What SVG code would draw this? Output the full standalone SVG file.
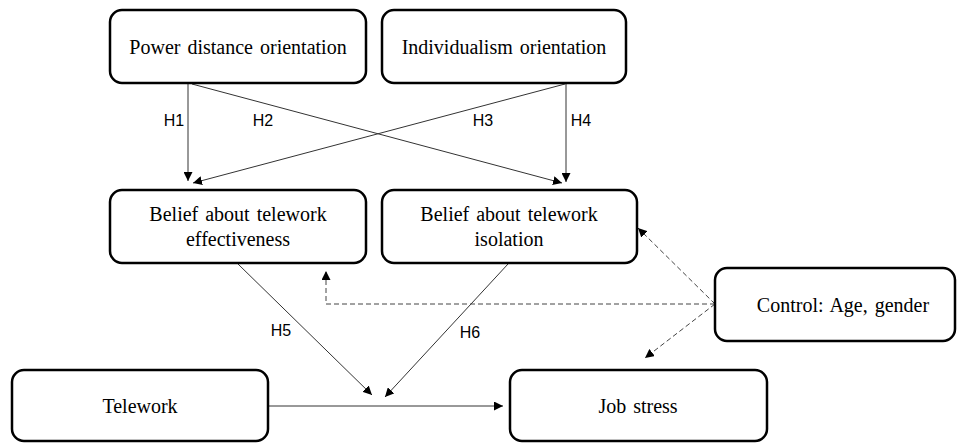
<svg xmlns="http://www.w3.org/2000/svg" width="959" height="443" viewBox="0 0 959 443">
<style>
.box{fill:#fff;stroke:#000;stroke-width:2.5}
.t{font-family:"Liberation Serif","Times New Roman",serif;font-size:20px;fill:#000;text-anchor:middle;word-spacing:2px}
.h{font-family:"Liberation Sans",Arial,sans-serif;font-size:16px;fill:#000;text-anchor:middle}
.c{fill:none;stroke:#333;stroke-width:1}
.d{fill:none;stroke:#444;stroke-width:1;stroke-dasharray:5,3}
</style>
<defs>
<marker id="a" viewBox="0 0 10 10" refX="10" refY="5" markerWidth="9" markerHeight="9" markerUnits="userSpaceOnUse" orient="auto"><path d="M0,0L10,5L0,10z" fill="#000"/></marker>
</defs>
<rect width="959" height="443" fill="#fff"/>
<g id="connectors">
<line class="c" x1="188" y1="84" x2="188" y2="181" marker-end="url(#a)"/>
<line class="c" x1="192" y1="84" x2="562" y2="183" marker-end="url(#a)"/>
<line class="c" x1="565" y1="84" x2="193" y2="183" marker-end="url(#a)"/>
<line class="c" x1="566" y1="84" x2="566" y2="182" marker-end="url(#a)"/>
<line class="c" x1="238" y1="264" x2="372" y2="395" marker-end="url(#a)"/>
<line class="c" x1="508" y1="264" x2="385" y2="397" marker-end="url(#a)"/>
<line class="c" x1="268" y1="406" x2="503" y2="406" stroke-width="1.5" stroke="#555" marker-end="url(#a)"/>
<polyline class="d" points="715,304 326,304 326,271" marker-end="url(#a)"/>
<line class="d" x1="715" y1="304" x2="638" y2="228" marker-end="url(#a)"/>
<line class="d" x1="715" y1="304" x2="645" y2="358" marker-end="url(#a)"/>
<text class="h" x="174" y="126">H1</text>
<text class="h" x="263" y="126">H2</text>
<text class="h" x="483" y="126">H3</text>
<text class="h" x="581" y="126">H4</text>
<text class="h" x="281" y="336">H5</text>
<text class="h" x="470" y="338">H6</text>
</g>
<g id="n1"><rect class="box" x="110" y="10" width="256" height="73" rx="12"/><text class="t" x="238" y="54">Power distance orientation</text></g>
<g id="n2"><rect class="box" x="382" y="10" width="244" height="73" rx="12"/><text class="t" x="504" y="54">Individualism orientation</text></g>
<g id="n3"><rect class="box" x="110" y="190" width="256" height="73" rx="12"/><text class="t" x="238" y="221">Belief about telework</text><text class="t" x="238" y="246">effectiveness</text></g>
<g id="n4"><rect class="box" x="382" y="190" width="255" height="73" rx="12"/><text class="t" x="509" y="221">Belief about telework</text><text class="t" x="509" y="246">isolation</text></g>
<g id="n5"><rect class="box" x="715" y="268" width="240" height="73" rx="12"/><text class="t" x="843" y="312">Control: Age, gender</text></g>
<g id="n6"><rect class="box" x="12" y="370" width="256" height="71" rx="12"/><text class="t" x="140" y="413">Telework</text></g>
<g id="n7"><rect class="box" x="510" y="370" width="257" height="71" rx="12"/><text class="t" x="638" y="413">Job stress</text></g>
</svg>
